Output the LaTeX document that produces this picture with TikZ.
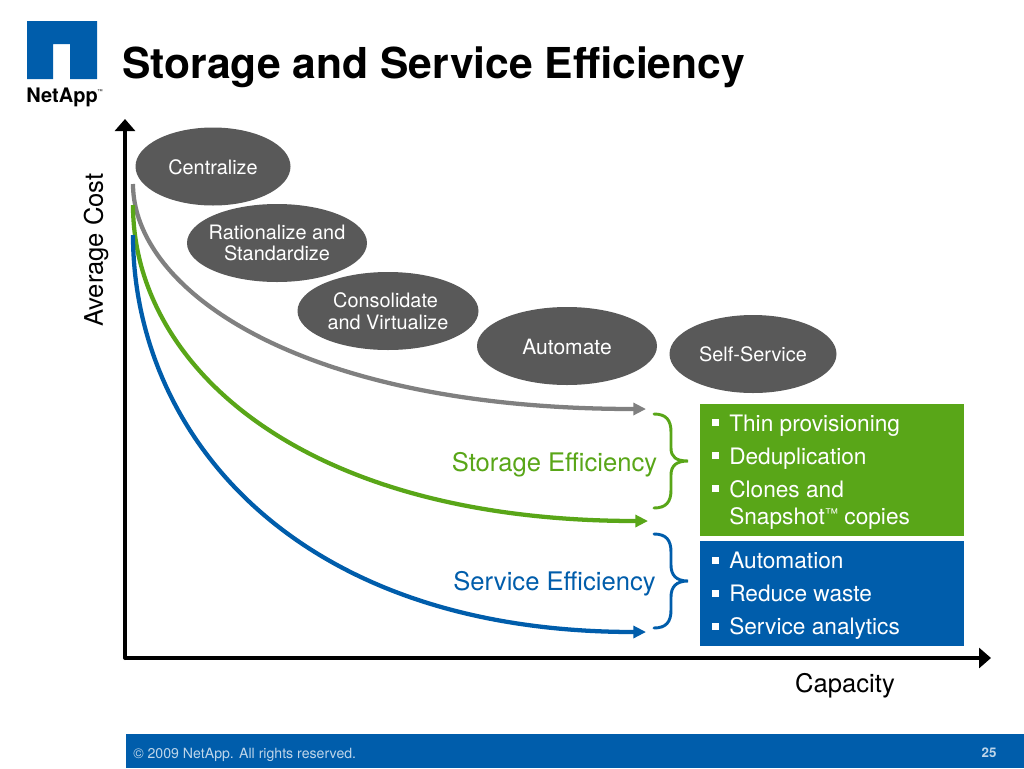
\documentclass[tikz,border=0pt]{standalone}
\usepackage{fontspec}
\setmainfont{TeX Gyre Heros}
\usetikzlibrary{arrows.meta,shapes.geometric}
\definecolor{nablue}{HTML}{005DAB}
\definecolor{nagreen}{HTML}{59A618}
\definecolor{nagray}{HTML}{808080}
\definecolor{ovalgray}{HTML}{595959}
\newcommand{\fs}[1]{\fontsize{#1}{#1}\selectfont}
\tikzset{
 x=0.75pt,y=-0.75pt,
 oval/.style={ellipse,fill=ovalgray,inner sep=0pt,minimum height=58.5pt},
 ovaltext/.style={text=white,align=center,inner sep=0pt,font=\fontsize{14.9pt}{16.2pt}\selectfont},
 axisline/.style={line width=3pt,-{Triangle[length=9pt,width=15pt]}},
 curve/.style={line width=3.2pt,-{Triangle[length=9.5pt,width=9pt]}},
 brace/.style={line width=2.2pt,line cap=round},
 bul/.style={fill=white,minimum size=5.25pt,inner sep=0pt},
 itemtext/.style={anchor=base west,text=white,inner sep=0pt,font=\fs{17pt}},
 lab/.style={inner sep=0pt,font=\fs{19.2pt}},
}
\begin{document}
\begin{tikzpicture}
\useasboundingbox (0,0) rectangle (1024,768);
\fill[white] (0,0) rectangle (1024,768);
% logo
\fill[nablue] (27,21) -- (97,21) -- (97,79) -- (70,79) -- (70,44) -- (53,44) -- (53,79) -- (27,79) -- cycle;
\node[font=\bfseries\fs{15pt},anchor=center,inner sep=0pt] (logo) at (62,97) {NetApp};
\node[font=\fs{4pt},inner sep=0pt] (logotm) at (100,92) {™};
\node[anchor=base west,inner sep=0pt,font=\bfseries\fs{31.95pt}] (title) at (122,78) {Storage and Service Efficiency};
% axes
\coordinate (origin) at (125,658);
\coordinate (ytop) at (125,119);
\coordinate (xend) at (991,658);
% boxes
\node[fill=nagreen,minimum width=198.4pt,minimum height=99pt,inner sep=0pt,anchor=north west] (gbox) at (699.5,403.5) {};
\node[fill=nablue,minimum width=198.4pt,minimum height=78.75pt,inner sep=0pt,anchor=north west] (bbox) at (699.5,540.5) {};
% curves
\coordinate (g0) at (133,184); \coordinate (g1) at (646,409);
\coordinate (s0) at (133,205); \coordinate (s1) at (648,521);
\coordinate (b0) at (133,235); \coordinate (b1) at (646,632);
\draw[curve,nagray] (g0) .. controls (133,290) and (300,409) .. (g1);
\draw[curve,nagreen] (s0) .. controls (133,365) and (300,521) .. (s1);
\draw[curve,nablue] (b0) .. controls (133,430) and (290,632) .. (b1);
\draw[axisline,line cap=round] (origin) -- (ytop);
\draw[axisline] (origin) -- (xend);
% ovals
\node[oval,minimum width=116.25pt] (o1) at (213,166.5) {};
\node[ovaltext] (o1t) at (213,167) {Centralize};
\node[oval,minimum width=135pt] (o2) at (277,243) {};
\node[ovaltext] (o2t) at (277,243) {Rationalize and\\Standardize};
\node[oval,minimum width=135.75pt] (o3) at (388,311) {};
\node[ovaltext] (o3t) at (388,311) {Consolidate\hspace*{3.75pt}\\and Virtualize};
\node[oval,minimum width=135pt] (o4) at (567,346) {};
\node[ovaltext,font=\fs{15.8pt}] (o4t) at (567,347) {Automate};
\node[oval,minimum width=125.25pt] (o5) at (753,354) {};
\node[ovaltext] (o5t) at (753,354.5) {Self-Service};
% labels
\node[lab,rotate=90] (ylab) at (96,250) {Average Cost};
\node[lab] (xlab) at (845,686) {Capacity};
\node[lab,text=nagreen] (slab) at (554.5,465) {Storage Efficiency};
\node[lab,text=nablue] (blab) at (554.5,584) {Service Efficiency};
% braces
\draw[brace,nagreen] (654,414) .. controls (666,414) and (671,420) .. (671,432) -- (671,448) .. controls (671,457) and (676,461) .. (688,461) .. controls (676,461) and (671,466) .. (671,475) -- (671,490) .. controls (671,502) and (666,508) .. (654,508);
\draw[brace,nablue] (654,534) .. controls (666,534) and (671,540) .. (671,552) -- (671,565) .. controls (671,575) and (676,581) .. (688,581) .. controls (676,581) and (671,587) .. (671,597) -- (671,610) .. controls (671,622) and (666,628) .. (654,628);
% list items
\node[bul] (bu1) at (715.5,422.5) {}; \node[itemtext] (t1) at (729,431) {Thin provisioning};
\node[bul] (bu2) at (715.5,455.7) {}; \node[itemtext] (t2) at (729,464) {Deduplication};
\node[bul] (bu3) at (715.5,488) {}; \node[itemtext] (t3) at (729,497) {Clones and};
\node[itemtext] (t4) at (729,524) {Snapshot\raisebox{4.5pt}{\fs{10pt}™} copies};
\node[bul] (bu5) at (715.5,560.3) {}; \node[itemtext] (t5) at (729,568) {Automation};
\node[bul] (bu6) at (715.5,593) {}; \node[itemtext] (t6) at (729,601) {Reduce waste};
\node[bul] (bu7) at (715.5,626.3) {}; \node[itemtext] (t7) at (729,634) {Service analytics};
% footer
\fill[nablue] (126,734) rectangle (1024,768);
\node[anchor=west,inner sep=0pt,text=white!75!nablue,font=\fs{10.6pt}] (copy) at (133,755) {© 2009 NetApp. All rights reserved.};
\node[inner sep=0pt,text=white!75!nablue,font=\bfseries\fs{10pt}] (pg) at (989,753) {25};
\end{tikzpicture}
\end{document}
